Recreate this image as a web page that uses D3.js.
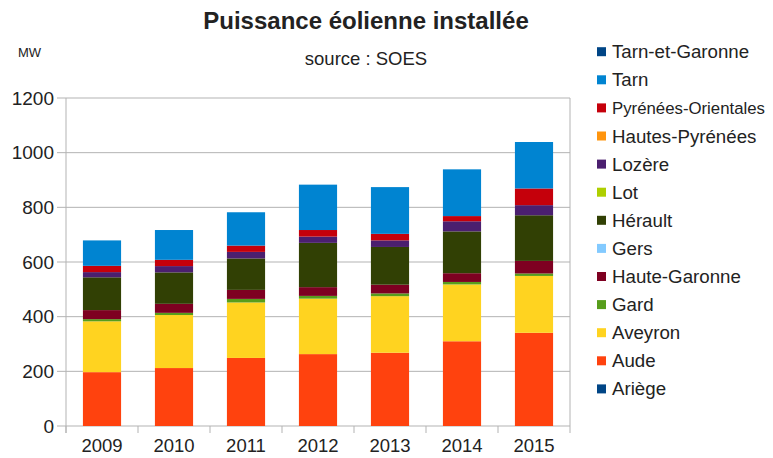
<!DOCTYPE html>
<html lang="fr">
<head>
<meta charset="UTF-8">
<title>Puissance éolienne installée</title>
<script src="https://d3js.org/d3.v7.min.js"></script>
<style>
  html, body { margin: 0; padding: 0; background: #fff; overflow: hidden; }
  text { font-family: "Liberation Sans", Arial, sans-serif; fill: #222; }
</style>
</head>
<body>
<div id="chart"></div>
<script>
// data (MW)
const years = ['2009', '2010', '2011', '2012', '2013', '2014', '2015']
const departements = ['Ariège', 'Aude', 'Aveyron', 'Gard', 'Haute-Garonne', 'Gers', 'Hérault',
  'Lot', 'Lozère', 'Hautes-Pyrénées', 'Pyrénées-Orientales', 'Tarn', 'Tarn-et-Garonne']
const ariege = [0, 0, 0, 0, 0, 0, 0]
const aude = [197, 212, 249, 263, 268, 310, 341]
const aveyron = [186, 194, 203, 203, 207, 208, 208]
const gard = [8, 8, 13, 10, 10, 9, 9]
const hauteGaronne = [33, 33, 33, 32, 32, 32, 46]
const gers = [0, 0, 0, 0, 0, 0, 0]
const herault = [120, 115, 115, 162, 138, 153, 167]
const lot = [0, 0, 0, 0, 0, 0, 0]
const lozere = [19, 23, 24, 23, 24, 37, 37]
const hautesPyrenees = [0, 0, 0, 0, 0, 0, 0]
const pyreneesOrientales = [23, 23, 23, 24, 24, 19, 61]
const tarn = [93, 109, 122, 166, 171, 171, 170]
const tarnEtGaronne = [0, 0, 0, 0, 0, 0, 0]
const yTicks = [0, 200, 400, 600, 800, 1000, 1200]

const series = [ariege, aude, aveyron, gard, hauteGaronne, gers, herault,
  lot, lozere, hautesPyrenees, pyreneesOrientales, tarn, tarnEtGaronne]
const colors = ['#004586', '#ff420e', '#ffd320', '#579d1c', '#7e0021', '#83caff', '#314004',
  '#aecf00', '#4b1f6f', '#ff950e', '#c5000b', '#0084d1', '#004586']

const W = 773, H = 458
const plot = { left: 66, right: 570, top: 98, bottom: 426 }

const svg = d3.select('#chart').append('svg')
  .attr('width', W).attr('height', H)
  .style('display', 'block')
svg.append('rect').attr('width', W).attr('height', H).attr('fill', '#fff')

const rows = years.map((y, i) => {
  const r = { year: y }
  departements.forEach((d, k) => { r[d] = series[k][i] })
  return r
})
const stacked = d3.stack().keys(departements)(rows)

const x = d3.scaleBand().domain(years).range([plot.left, plot.right]).padding(0)
const y = d3.scaleLinear().domain([0, 1200]).range([plot.bottom, plot.top])
const barW = x.bandwidth() * 0.53

// grid
svg.append('g').selectAll('line').data(yTicks).join('line')
  .attr('x1', plot.left - 9).attr('x2', plot.right)
  .attr('y1', d => y(d)).attr('y2', d => y(d))
  .attr('stroke', '#b3b3b3').attr('stroke-width', 1)
svg.append('line')
  .attr('x1', plot.left).attr('x2', plot.left)
  .attr('y1', plot.top).attr('y2', plot.bottom + 7)
  .attr('stroke', '#b3b3b3')
svg.append('line')
  .attr('x1', plot.right).attr('x2', plot.right)
  .attr('y1', plot.top).attr('y2', plot.bottom + 7)
  .attr('stroke', '#b3b3b3')
// category ticks
svg.append('g').selectAll('line').data(years).join('line')
  .attr('x1', d => x(d)).attr('x2', d => x(d))
  .attr('y1', plot.bottom).attr('y2', plot.bottom + 7)
  .attr('stroke', '#b3b3b3')

// bars
svg.append('g').selectAll('g').data(stacked).join('g')
  .attr('fill', (d, i) => colors[i])
  .selectAll('rect').data(d => d).join('rect')
  .attr('x', d => x(d.data.year) + (x.bandwidth() - barW) / 2)
  .attr('y', d => y(d[1]))
  .attr('width', barW)
  .attr('height', d => y(d[0]) - y(d[1]))

// y labels
svg.append('g').selectAll('text').data(yTicks).join('text')
  .attr('x', 54).attr('y', d => y(d) + 6.5)
  .attr('text-anchor', 'end')
  .style('font-size', '19px')
  .text(d => d)
// x labels
svg.append('g').selectAll('text').data(years).join('text')
  .attr('x', d => x(d) + x.bandwidth() / 2).attr('y', 452)
  .attr('text-anchor', 'middle')
  .style('font-size', '18.5px')
  .text(d => d)

svg.append('text').attr('x', 18).attr('y', 57)
  .style('font-size', '13px').text('MW')

svg.append('text').attr('x', 366).attr('y', 29)
  .attr('text-anchor', 'middle')
  .style('font-size', '24px').style('font-weight', 'bold')
  .text('Puissance éolienne installée')
svg.append('text').attr('x', 366).attr('y', 65)
  .attr('text-anchor', 'middle')
  .style('font-size', '18.5px')
  .text('source : SOES')

// legend, top item = last series
const legend = svg.append('g').selectAll('g')
  .data(departements.map((d, i) => ({ name: d, color: colors[i] })).reverse())
  .join('g')
  .attr('transform', (d, i) => `translate(597, ${51.7 + i * 28.1})`)
legend.append('rect').attr('x', 0).attr('y', -4.5).attr('width', 9).attr('height', 9)
  .attr('fill', d => d.color)
legend.append('text').attr('x', 15).attr('y', 6.5)
  .style('font-size', '18.7px')
  .text(d => d.name)
  // the longest name gets a smaller font so it stays inside the picture
  .each(function () {
    const len = this.getComputedTextLength()
    const room = W - 8 - 612
    if (len > room) {
      d3.select(this).style('font-size', (18.7 * room / len).toFixed(1) + 'px')
    }
  })
</script>
</body>
</html>
